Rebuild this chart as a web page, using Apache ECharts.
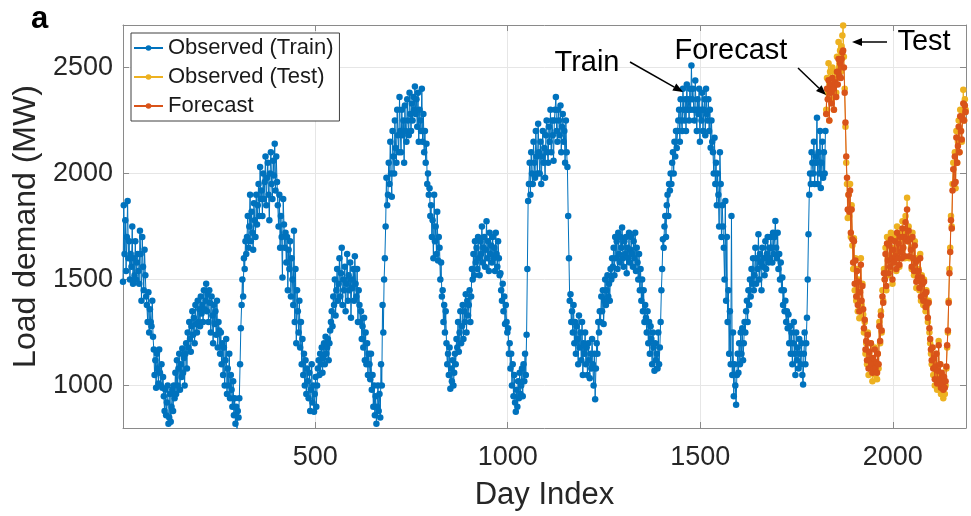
<!DOCTYPE html>
<html><head><meta charset="utf-8">
<script src="https://cdn.jsdelivr.net/npm/echarts@6/dist/echarts.min.js"></script>
<style>html,body{margin:0;padding:0;background:#fff}#c{width:971px;height:516px}</style>
</head><body><div id="c"></div>
<script>
// ---- data (day index sampled every 2 days) ----
const trainStart = 1;
const testStart = 1827;
const dayStep = 2;
const seriesNames = ['Observed (Train)', 'Observed (Test)', 'Forecast'];
const trainVals = [
1490,1850,1620,1780,1540,1700,1870,1600,1680,1500,1620,1560,1750,1480,1600,1520,1680,1500,1580,1620,
1540,1480,1730,1620,1400,1700,1560,1450,1640,1520,1420,1380,1300,1440,1250,1360,1300,1280,1400,1230,
1170,1050,1120,990,1150,1080,1010,1170,1060,1000,1100,990,1040,950,880,980,860,920,1000,820,
850,960,830,900,980,880,1000,940,1060,960,1120,1000,1080,1150,980,1100,1040,1175,1060,1130,
1000,1150,1200,1080,1250,1180,1300,1220,1160,1280,1350,1240,1320,1200,1380,1290,1250,1400,1300,1360,
1280,1420,1340,1380,1300,1450,1360,1400,1480,1350,1430,1300,1450,1390,1250,1420,1330,1200,1380,1290,
1350,1240,1400,1180,1300,1260,1150,1250,1100,1200,1050,1180,1000,1120,1220,960,1080,1000,1150,940,
1050,980,900,1020,860,940,820,900,795,880,850,940,1100,1270,1380,1500,1420,1600,1550,1680,
1620,1700,1800,1650,1750,1900,1680,1820,1720,1640,1860,1780,1700,1900,1760,1850,1950,1800,2030,1880,
1920,1800,2000,1880,1960,2080,1850,1980,2050,1900,1780,2000,2100,1950,1880,2060,1990,2140,1920,2080,
1960,1850,1750,1900,1650,1800,1700,1510,1880,1760,1650,1720,1580,1700,1450,1640,1550,1680,1420,1600,
1500,1380,1730,1300,1550,1200,1450,1350,1250,1400,1180,1300,1100,1220,1050,1150,1000,1120,960,1080,
1020,940,1060,880,980,1100,920,1000,877,960,1040,900,1000,1080,1120,1050,1150,1100,1180,1060,
1130,1200,1100,1230,1150,1180,1220,1120,1200,1260,1300,1350,1280,1420,1380,1500,1330,1450,1550,1400,
1480,1600,1420,1530,1650,1380,1500,1450,1560,1350,1480,1620,1400,1520,1450,1580,1320,1500,1460,1550,
1400,1610,1480,1420,1550,1300,1450,1380,1300,1350,1220,1280,1180,1320,1120,1250,1100,1200,1050,1150,
1100,1030,1150,980,1050,900,1000,860,950,820,900,1000,880,960,850,1100,1000,1380,1250,1500,
1600,1750,1980,1850,1900,2050,1950,2150,2000,1890,2200,2080,2000,2250,2120,2050,2300,2180,2100,2360,
2200,2100,2300,2180,2250,2050,2320,2200,2150,2350,2250,2180,2380,2280,2200,2330,2250,2360,2300,2410,
2280,2350,2220,2380,2150,2300,2250,2200,2400,2150,2280,2100,2200,2050,2140,1950,2000,1900,1930,1800,
1850,1700,1780,1600,1900,1680,1750,1620,1820,1590,1700,1650,1500,1580,1420,1450,1300,1380,1250,1350,
1200,1100,1150,1050,1180,985,1080,1020,1120,1000,1060,1150,1100,1220,1180,1300,1160,1250,1350,1200,
1280,1380,1220,1350,1300,1430,1250,1400,1330,1380,1450,1300,1420,1550,1500,1620,1520,1680,1580,1650,
1550,1700,1600,1520,1680,1620,1750,1580,1650,1700,1560,1640,1775,1600,1680,1540,1720,1620,1660,1580,
1700,1600,1650,1540,1720,1620,1560,1680,1600,1520,1530,1450,1400,1480,1350,1420,1290,1380,1300,1250,
1270,1150,1200,1080,1150,1000,1100,950,1050,920,877,980,900,1020,940,1060,960,1000,1080,950,
1100,1020,1150,1050,1240,1550,1870,1950,2050,1900,2100,2000,1950,2150,2050,1980,2200,2080,2000,2235,
2100,2000,2150,1950,2080,2200,2050,2120,1980,2180,2250,2100,2050,2220,2150,2300,2100,2250,2180,2060,
2250,2300,2360,2200,2150,2300,2250,2180,2320,2100,2220,2280,2150,2200,2050,2250,2100,2030,1800,1600,
1400,1430,1300,1350,1250,1380,1200,1300,1150,1280,1220,1100,1330,1180,1250,1120,1300,1050,1200,1150,
1250,1100,1180,1050,1200,1120,1035,1150,1080,1220,1100,1000,1150,935,1080,1200,1150,1300,1250,1350,
1300,1420,1350,1450,1290,1400,1500,1380,1450,1520,1420,1480,1400,1550,1500,1600,1560,1650,1520,1700,
1600,1680,1550,1720,1620,1580,1700,1650,1745,1600,1560,1680,1620,1700,1530,1650,1600,1720,1580,1640,
1700,1620,1560,1680,1600,1720,1540,1650,1580,1500,1620,1450,1550,1400,1500,1350,1450,1300,1380,1320,
1250,1350,1200,1300,1150,1280,1220,1100,1250,1180,1070,1200,1120,1150,1080,1250,1100,1180,1300,1450,
1550,1690,1650,1750,1800,1700,1850,1900,1800,1950,1920,2000,1950,2050,2100,2000,2150,2080,2200,2120,
2200,2250,2300,2150,2350,2250,2200,2400,2300,2250,2350,2200,2420,2300,2350,2250,2400,2300,2509,2350,
2400,2300,2250,2438,2300,2200,2350,2280,2400,2150,2300,2250,2380,2200,2300,2350,2180,2400,2280,2250,
2350,2200,2300,2121,2250,2150,2100,2000,2168,1950,2050,1850,2000,1900,1750,2100,1950,1700,1850,1750,
1650,1500,1870,1400,1700,1300,1450,1150,1350,1100,1800,1050,1250,950,1100,1000,910,1050,1150,1060,
1200,1100,1250,1150,1270,1120,1200,1300,1250,1350,1400,1300,1450,1380,1500,1420,1550,1480,1600,1450,
1520,1650,1480,1600,1550,1714,1500,1620,1580,1450,1650,1560,1600,1520,1680,1550,1620,1700,1580,1650,
1600,1700,1650,1580,1720,1620,1700,1776,1650,1600,1720,1550,1620,1500,1580,1450,1510,1380,1450,1350,
1400,1300,1350,1270,1335,1200,1280,1150,1250,1100,1200,1300,1150,1050,1250,1120,1180,1080,1220,1150,
1100,1200,1050,1005,1150,1250,1100,1200,1320,1500,1714,1900,2000,1950,2100,2050,2000,2150,1950,2080,
2050,2263,1950,2100,2000,2200,1932,2050,2150,1980,2100,2000,2200
];
const testVals = [
2300,2450,2380,2520,2250,2480,2400,2350,2500,2420,2300,2480,2450,2380,2550,2450,2620,2500,2580,2480,
2600,2650,2698,2550,2400,2220,2050,1950,1790,1900,1800,1950,1700,1850,1660,1550,1695,1450,1600,1400,
1550,1350,1500,1317,1450,1600,1380,1480,1335,1250,1300,1150,1200,1100,1250,1050,1150,1100,1200,1080,
1020,1120,1060,1180,1050,1100,1030,1150,1080,1300,1200,1350,1250,1450,1400,1550,1500,1650,1450,1700,
1600,1520,1680,1550,1720,1600,1480,1650,1580,1700,1620,1540,1750,1600,1680,1560,1720,1640,1600,1775,
1650,1720,1600,1800,1700,1885,1680,1750,1600,1700,1650,1550,1720,1600,1520,1680,1580,1460,1600,1500,
1550,1450,1620,1400,1520,1480,1380,1500,1420,1350,1450,1380,1300,1400,1250,1200,1150,1100,1180,1050,
1120,1000,1080,1150,980,1050,1210,1000,1100,960,1050,980,940,1020,960,1000,1080,1180,1250,1400,
1550,1650,1800,1750,1950,2050,1950,2100,1930,2200,2050,2150,2250,2100,2300,2200,2150,2280,2395,2250,
2350,2300
];
const forecastVals = [
2280,2400,2350,2440,2250,2420,2380,2330,2450,2400,2300,2430,2420,2360,2480,2420,2540,2460,2520,2450,
2540,2570,2580,2500,2380,2240,2080,1980,1830,1900,1820,1920,1720,1830,1690,1580,1680,1480,1590,1420,
1540,1380,1490,1350,1440,1570,1400,1470,1360,1270,1310,1170,1210,1120,1240,1080,1160,1120,1200,1100,
1060,1130,1080,1170,1080,1110,1060,1150,1100,1280,1210,1330,1260,1420,1390,1530,1500,1620,1470,1670,
1590,1530,1660,1560,1690,1600,1500,1640,1580,1680,1610,1550,1720,1600,1670,1570,1700,1630,1600,1740,
1650,1700,1610,1770,1690,1830,1680,1730,1610,1690,1640,1560,1700,1600,1540,1660,1580,1490,1590,1510,
1540,1460,1600,1420,1510,1480,1400,1490,1430,1370,1440,1390,1320,1390,1270,1220,1170,1120,1180,1080,
1130,1030,1090,1150,1010,1070,1190,1030,1100,990,1060,1010,980,1040,990,1020,1090,1190,1260,1390,
1530,1630,1780,1740,1920,2020,1950,2080,1960,2170,2050,2130,2220,2100,2270,2200,2160,2260,2330,2250,
2320,2290
];

const toPairs = (vals, start) => vals.map((v, i) => [start + i * dayStep, v]);

const FONT = '"Liberation Sans", Arial, Helvetica, sans-serif';
const AX = '#8a8a8a';
const TXT = '#262626';
const plainNum = v => String(Math.round(v));

function arrow(x1, y1, x2, y2) {
  const a = Math.atan2(y2 - y1, x2 - x1), L = 10, W = 4;
  const bx = x2 - L * Math.cos(a), by = y2 - L * Math.sin(a);
  const px = -Math.sin(a) * W, py = Math.cos(a) * W;
  return [
    { type: 'line', z: 50, shape: { x1, y1, x2: bx, y2: by }, style: { stroke: '#000', lineWidth: 1.5 } },
    { type: 'polygon', z: 50, shape: { points: [[x2, y2], [bx + px, by + py], [bx - px, by - py]] }, style: { fill: '#000' } }
  ];
}

const chart = echarts.init(document.getElementById('c'), null, { renderer: 'canvas' });
const commonX = { type: 'value', min: 1, max: 2190, splitNumber: 4 };
const commonY = { type: 'value', min: 800, max: 2700, splitNumber: 4 };
const mkSeries = (name, vals, start, color, z) => ({
  name, type: 'line', xAxisIndex: 0, yAxisIndex: 0, data: toPairs(vals, start),
  symbol: 'circle', symbolSize: 6.5, showSymbol: true, color,
  lineStyle: { width: 1, color }, itemStyle: { color }, z
});
chart.setOption({
  animation: false,
  backgroundColor: '#fff',
  grid: { left: 123, right: 5, top: 25, bottom: 88, containLabel: false, outerBoundsMode: 'none' },
  xAxis: [
    Object.assign({}, commonX, {
      position: 'bottom',
      name: 'Day Index', nameLocation: 'middle', nameGap: 52,
      nameTextStyle: { fontSize: 31, color: TXT, fontFamily: FONT },
      axisLine: { show: true, lineStyle: { color: AX, width: 1 } },
      axisTick: { show: true, inside: true, length: 6, lineStyle: { color: AX } },
      axisLabel: { fontSize: 27, color: TXT, fontFamily: FONT, margin: 16, showMinLabel: false, showMaxLabel: false, formatter: plainNum },
      splitLine: { show: true, lineStyle: { color: '#e6e6e6', width: 1 } }
    }),
    Object.assign({}, commonX, {
      position: 'top',
      axisLine: { show: true, lineStyle: { color: AX, width: 1 } },
      axisTick: { show: true, inside: true, length: 6, lineStyle: { color: AX } },
      axisLabel: { show: false },
      splitLine: { show: false }
    })
  ],
  yAxis: [
    Object.assign({}, commonY, {
      position: 'left',
      name: 'Load demand (MW)', nameLocation: 'middle', nameGap: 76,
      nameTextStyle: { fontSize: 32, color: TXT, fontFamily: FONT },
      axisLine: { show: true, lineStyle: { color: AX, width: 1 } },
      axisTick: { show: true, inside: true, length: 6, lineStyle: { color: AX } },
      axisLabel: { fontSize: 27, color: TXT, fontFamily: FONT, margin: 10, showMinLabel: false, showMaxLabel: false, formatter: plainNum },
      splitLine: { show: true, lineStyle: { color: '#e6e6e6', width: 1 } }
    }),
    Object.assign({}, commonY, {
      position: 'right',
      axisLine: { show: true, lineStyle: { color: AX, width: 1 } },
      axisTick: { show: true, inside: true, length: 6, lineStyle: { color: AX } },
      axisLabel: { show: false },
      splitLine: { show: false }
    })
  ],
  legend: {
    orient: 'vertical', left: 131, top: 33, z: 20,
    padding: [4, 6, 4, 2], itemGap: 7, itemWidth: 29, itemHeight: 7,
    backgroundColor: '#fff', borderColor: '#404040', borderWidth: 1, borderRadius: 0,
    textStyle: { fontSize: 22, color: '#1a1a1a', fontFamily: FONT },
    data: seriesNames
  },
  series: [
    mkSeries(seriesNames[0], trainVals, trainStart, '#0072BD', 2),
    mkSeries(seriesNames[1], testVals, testStart, '#EDB120', 3),
    mkSeries(seriesNames[2], forecastVals, testStart, '#D95319', 4)
  ],
  graphic: [
    { type: 'text', left: 31, top: 4, z: 50, style: { text: 'a', font: 'bold 31px ' + FONT, fill: '#000' } },
    { type: 'text', z: 50, x: 587, y: 63, style: { text: 'Train', font: '29px ' + FONT, fill: '#000', align: 'center', verticalAlign: 'middle' } },
    { type: 'text', z: 50, x: 731, y: 51, style: { text: 'Forecast', font: '29px ' + FONT, fill: '#000', align: 'center', verticalAlign: 'middle' } },
    { type: 'text', z: 50, x: 924, y: 42, style: { text: 'Test', font: '29px ' + FONT, fill: '#000', align: 'center', verticalAlign: 'middle' } }
  ].concat(arrow(630, 62, 683, 92), arrow(798, 68, 826, 95), arrow(887, 42, 852, 42))
});
</script>
</body></html>
